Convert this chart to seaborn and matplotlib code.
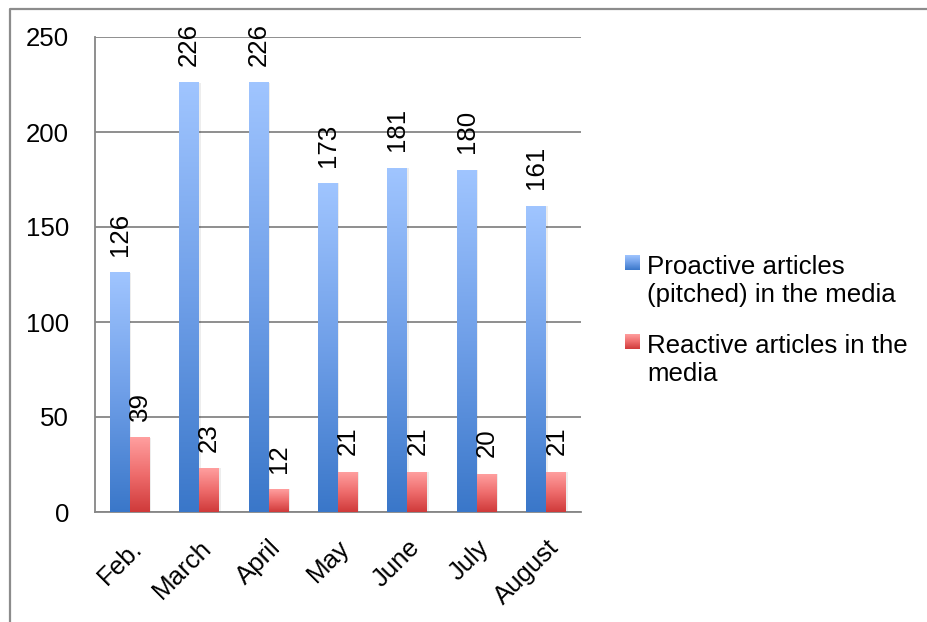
import numpy as np
import pandas as pd
import matplotlib
matplotlib.use("Agg")
import matplotlib.pyplot as plt
import seaborn as sns
from matplotlib.lines import Line2D
from matplotlib.colors import LinearSegmentedColormap
from matplotlib.transforms import ScaledTranslation

months = ["Feb.", "March", "April", "May", "June", "July", "August"]
proactive = [126, 226, 226, 173, 181, 180, 161]
reactive = [39, 23, 12, 21, 21, 20, 21]
series = ["Proactive articles\n(pitched) in the media", "Reactive articles in the\nmedia"]
yticks = [0, 50, 100, 150, 200, 250]

sns.set_theme(style="white")
plt.rcParams["font.family"] = ["Liberation Sans", "DejaVu Sans"]
plt.rcParams["text.color"] = "black"
plt.rcParams["xtick.labelcolor"] = "black"
plt.rcParams["ytick.labelcolor"] = "black"

FS = 18.6
GRAY = "#868686"
blue_cmap = LinearSegmentedColormap.from_list("b", ["#3a77c9", "#6f9fe8", "#a0c5ff"])
red_cmap = LinearSegmentedColormap.from_list("r", ["#cf3a3a", "#ee6c6c", "#ff9f9f"])

W, H = 927, 622
fig = plt.figure(figsize=(W / 100, H / 100), dpi=100)
ax = fig.add_axes([95 / W, 1 - 512 / H, (581 - 95) / W, (512 - 37) / H])

df = pd.DataFrame({
    "Month": months * 2,
    "Count": proactive + reactive,
    "Series": [series[0]] * len(months) + [series[1]] * len(months),
})
sns.barplot(data=df, x="Month", y="Count", hue="Series", order=months,
            hue_order=series, palette=["#6a9be6", "#e86a6a"], width=0.576,
            gap=0, ax=ax, legend=False, saturation=1, zorder=2, linewidth=0)

grad = np.linspace(0, 1, 256).reshape(-1, 1)
for cont, cmap in zip(ax.containers, [blue_cmap, red_cmap]):
    for p in cont.patches:
        x0, w, h = p.get_x(), p.get_width(), p.get_height()
        # subtle shadow
        ax.bar(x0 + w / 2 + 0.02, h, width=w, bottom=0, color="#000000", alpha=0.07, zorder=1.5, linewidth=0)
        ax.imshow(grad, extent=(x0, x0 + w, 0, h), cmap=cmap, aspect="auto",
                  origin="lower", zorder=3, interpolation="bilinear")
    vals = [int(round(p.get_height())) for p in cont.patches]
    ax.bar_label(cont, labels=[str(v) for v in vals], rotation=90, padding=12,
                 fontsize=FS, color="black", zorder=4)

ax.set_xlim(-0.5, len(months) - 0.5)
ax.set_ylim(0, 250)
ax.set_yticks(yticks)
ax.set_yticklabels([str(v) for v in yticks], fontsize=FS, color="black")
ax.set_xticks(range(len(months)))
ax.set_xticklabels(months, fontsize=FS, rotation=45, ha="right", rotation_mode="anchor", color="black")
shift = ScaledTranslation(-8 / 100, 0, fig.dpi_scale_trans)
for lbl in ax.get_xticklabels():
    lbl.set_transform(lbl.get_transform() + shift)
ax.set_xticks(np.arange(-0.5, len(months), 1), minor=True)
ax.tick_params(axis="x", which="major", length=0, pad=17)
ax.tick_params(axis="x", which="minor", length=5.2, width=1.3, color=GRAY, direction="out")
ax.tick_params(axis="y", which="major", length=5.8, width=1.3, color=GRAY, direction="out", pad=13)
ax.set_xlabel("")
ax.set_ylabel("")
ax.yaxis.grid(True, color=GRAY, linewidth=1.3)
ax.set_axisbelow(True)
for s in ["top", "right"]:
    ax.spines[s].set_visible(False)
for s in ["left", "bottom"]:
    ax.spines[s].set_color(GRAY)
    ax.spines[s].set_linewidth(1.3)
ax.set_facecolor("none")

# outer frame
fig.add_artist(Line2D([9.5 / W, 9.5 / W, 1], [0, 1 - 8.5 / H, 1 - 8.5 / H],
                      transform=fig.transFigure, color="#8c8c8c", lw=1.6))

# legend
for i, (lab, cmap) in enumerate(zip(series, [blue_cmap, red_cmap])):
    ytop = [255, 334][i]
    lax = fig.add_axes([625 / W, 1 - (ytop + 15) / H, 15 / W, 15 / H])
    lax.imshow(grad, cmap=cmap, aspect="auto", origin="lower")
    lax.set_axis_off()
    fig.text(647 / W, 1 - (ytop + 15 + 32) / H, lab, fontsize=FS, va="baseline", ha="left",
             linespacing=1.22, color="black")

fig.savefig("out.png", dpi=100)
